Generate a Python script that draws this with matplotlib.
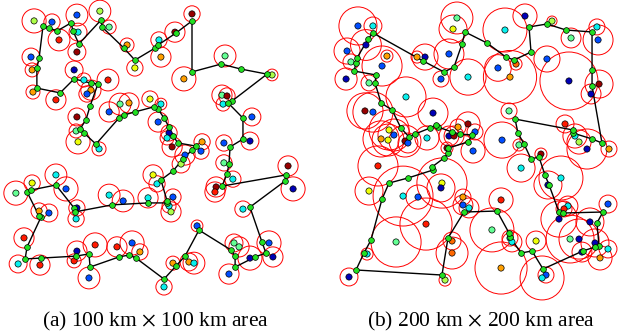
import matplotlib.pyplot as plt
from matplotlib.patches import Circle

plt.rcParams['mathtext.fontset'] = 'stix'

# colour levels of the sensor nodes (jet colormap)
N, B, C, LG, YG, Y, O, OR, R, DR = 0.05, 0.2, 0.36, 0.47, 0.56, 0.64, 0.74, 0.8, 0.88, 0.98

# ---- (a) 100 km x 100 km ----
sens_a_x = [8.6, 15.0, 17.5, 23.9, 24.3, 23.9, 32.1, 35.4, 41.8, 44.6,
            53.2, 53.9, 58.9, 65.0, 7.5, 7.9, 22.9, 8.2, 16.4, 26.4,
            28.9, 27.5, 35.0, 62.1, 76.8, 93.6, 75.7, 77.5, 76.1, 86.4,
            23.9, 35.4, 39.3, 42.5, 50.0, 53.9, 52.9, 56.8, 56.1, 23.6,
            24.3, 31.8, 57.9, 68.6, 68.2, 62.5, 61.1, 51.1, 52.5, 76.4,
            85.7, 76.4, 79.6, 73.6, 73.2, 99.3, 101.1, 83.2, 66.8, 58.2,
            56.8, 57.5, 49.3, 35.4, 40.4, 16.4, 20.0, 7.9, 2.1, 23.9,
            23.6, 10.4, 13.9, 5.0, 2.9, 10.7, 23.9, 22.9, 30.4, 28.2,
            38.2, 43.6, 46.4, 55.0, 58.2, 63.9, 65.7, 80.0, 81.8, 85.7,
            92.5, 93.9, 78.2]
sens_a_y = [96.1, 95.7, 89.3, 98.2, 92.1, 85.0, 99.6, 93.9, 87.5, 79.3,
            89.3, 83.2, 92.1, 98.6, 83.2, 78.6, 78.6, 70.7, 67.9, 75.0,
            71.4, 70.0, 75.0, 75.4, 83.6, 76.8, 69.6, 69.3, 66.4, 61.8,
            61.8, 63.6, 66.4, 66.8, 68.2, 66.4, 60.0, 56.1, 54.3, 56.8,
            52.9, 50.4, 51.1, 52.9, 49.6, 48.2, 45.0, 41.1, 37.9, 52.5,
            53.2, 45.4, 39.6, 36.8, 35.0, 44.3, 36.1, 28.9, 22.9, 33.2,
            30.0, 27.9, 32.9, 33.9, 31.8, 41.1, 36.1, 38.2, 34.6, 29.3,
            25.4, 28.2, 27.5, 18.6, 9.3, 8.9, 13.9, 10.4, 16.1, 4.3,
            15.4, 16.8, 13.6, 1.1, 9.6, 10.0, 9.6, 16.8, 15.4, 11.4,
            16.8, 11.8, 5.7]
sens_a_r = [4.3, 2.9, 3.9, 3.9, 3.2, 3.2, 3.9, 2.5, 2.5, 2.9,
            2.9, 3.6, 3.6, 2.9, 3.2, 2.5, 3.2, 2.5, 3.6, 2.5,
            3.6, 2.9, 3.9, 4.3, 3.9, 2.1, 3.6, 2.9, 2.5, 3.2,
            3.2, 3.6, 3.9, 3.6, 2.9, 2.1, 3.6, 2.9, 2.5, 2.5,
            4.3, 2.5, 3.6, 2.9, 2.9, 3.6, 3.2, 3.6, 2.9, 2.9,
            3.2, 2.9, 2.9, 3.6, 3.6, 3.6, 4.3, 2.9, 2.1, 2.9,
            2.5, 3.6, 3.6, 3.9, 3.9, 3.9, 4.3, 2.9, 4.3, 2.9,
            2.9, 2.9, 3.2, 3.6, 3.2, 3.6, 3.6, 2.5, 4.3, 3.9,
            3.6, 4.3, 2.9, 2.9, 2.5, 3.2, 3.9, 3.2, 3.6, 4.3,
            4.3, 3.6, 3.6]
sens_a_c = [YG, B, R, B, C, DR, YG, LG, O, Y,
            C, O, DR, DR, B, O, N, O, R, C,
            O, B, R, O, LG, YG, LG, DR, C, B,
            DR, B, LG, O, Y, C, B, N, C, LG,
            Y, C, DR, O, B, B, YG, Y, C, B,
            N, LG, C, DR, R, DR, N, C, B, B,
            C, YG, C, C, B, C, B, Y, LG, N,
            C, O, B, R, C, R, N, R, R, B,
            R, B, O, C, O, O, C, LG, LG, N,
            B, N, B]

tour_a_x = [11.8, 13.9, 16.8, 21.8, 22.5, 24.6, 32.5, 32.9, 40.7, 44.6,
            51.8, 52.9, 59.3, 65.0, 65.0, 75.4, 82.5, 91.8, 79.3, 77.9,
            83.2, 83.2, 78.6, 78.2, 77.5, 75.7, 98.6, 98.2, 85.7, 90.0,
            91.4, 87.5, 80.4, 80.4, 78.9, 67.5, 62.5, 59.3, 55.0, 45.0,
            42.5, 38.9, 28.6, 28.2, 23.6, 11.1, 5.4, 6.1, 11.1, 10.4,
            6.1, 7.5, 16.4, 22.9, 23.2, 36.4, 49.3, 56.1, 56.1, 53.9,
            58.2, 61.8, 65.0, 66.4, 60.0, 58.2, 56.8, 55.0, 52.9, 51.4,
            44.6, 40.7, 38.9, 30.7, 26.4, 25.0, 27.1, 28.6, 31.4, 28.9,
            22.9, 17.9, 9.6, 9.6, 10.4]
tour_a_y = [94.3, 93.6, 92.5, 95.4, 92.5, 87.9, 96.4, 93.9, 86.4, 82.1,
            86.4, 87.5, 91.8, 96.1, 77.9, 80.7, 78.9, 77.1, 67.5, 66.8,
            61.4, 53.9, 51.1, 45.0, 41.4, 37.1, 41.1, 38.9, 29.6, 17.1,
            13.2, 11.8, 8.2, 12.1, 14.3, 21.4, 12.1, 8.6, 3.9, 11.4,
            12.5, 11.8, 8.2, 12.9, 12.1, 11.4, 11.1, 15.4, 26.1, 26.4,
            35.0, 35.7, 37.5, 29.3, 27.9, 30.4, 31.1, 31.1, 31.8, 39.3,
            42.5, 46.8, 50.0, 51.4, 52.5, 55.0, 58.2, 61.4, 64.6, 65.4,
            63.6, 62.5, 61.4, 52.1, 56.1, 57.5, 60.7, 65.7, 73.6, 73.9,
            75.4, 70.4, 72.1, 79.3, 82.9]

# ---- (b) 200 km x 200 km ----
sens_b_x = [16.4, 27.1, 8.6, 11.4, 22.1, 33.6, 37.1, 7.9, 24.3, 50.7,
            58.6, 64.3, 87.1, 84.3, 81.4, 75.7, 95.0, 121.4, 135.7, 155.0,
            187.1, 187.9, 168.6, 116.4, 129.3, 125.0, 151.4, 167.1, 188.6, 182.9,
            21.4, 27.1, 70.0, 95.0, 124.3, 164.3, 171.4, 38.6, 42.1, 32.9,
            37.9, 50.0, 52.1, 65.7, 87.9, 81.4, 85.0, 100.0, 80.0, 98.6,
            30.7, 76.4, 75.7, 24.3, 48.6, 59.3, 91.4, 91.4, 95.7, 119.3,
            131.4, 132.9, 147.1, 161.4, 152.1, 174.3, 180.0, 195.7, 118.6, 65.0,
            43.6, 22.9, 10.0, 78.6, 83.6, 83.6, 112.1, 125.0, 126.4, 143.6,
            118.6, 150.7, 147.9, 166.4, 163.6, 160.0, 195.0, 182.1, 167.9, 174.3,
            185.7, 195.0, 189.3, 176.4]
sens_b_y = [188.6, 188.6, 170.7, 162.9, 175.0, 160.0, 167.1, 150.7, 147.9, 137.9,
            166.4, 166.4, 194.3, 186.4, 168.6, 150.7, 152.1, 185.7, 195.7, 192.1,
            187.9, 178.6, 180.0, 158.6, 161.4, 152.1, 165.0, 149.3, 147.1, 140.0,
            127.9, 127.1, 126.4, 118.6, 127.9, 118.6, 110.0, 114.3, 110.7, 107.9,
            107.1, 106.4, 105.0, 108.6, 116.4, 110.0, 110.0, 112.9, 101.4, 99.3,
            88.6, 76.4, 72.9, 70.7, 67.1, 66.4, 66.4, 60.7, 58.6, 107.1,
            103.6, 87.1, 97.1, 80.0, 75.0, 105.7, 100.7, 100.7, 64.3, 47.1,
            34.3, 25.7, 9.3, 7.1, 35.0, 26.4, 42.9, 37.1, 34.3, 35.0,
            15.7, 10.7, 8.6, 60.0, 57.9, 50.7, 61.4, 48.6, 36.4, 36.4,
            33.6, 29.3, 22.9, 27.1]
sens_b_r = [13.6, 6.4, 9.3, 5.7, 11.0, 14.3, 4.3, 7.9, 5.7, 14.3,
            4.3, 9.3, 11.4, 10.0, 10.7, 5.7, 12.9, 15.7, 8.6, 3.6,
            5.7, 10.7, 7.1, 9.5, 4.3, 19.0, 9.3, 20.7, 10.0, 7.1,
            12.9, 14.3, 10.7, 8.6, 5.7, 6.4, 8.6, 14.3, 11.4, 12.9,
            11.4, 11.4, 7.1, 8.6, 5.7, 7.1, 7.1, 5.7, 4.3, 8.6,
            14.3, 17.9, 10.0, 10.0, 21.4, 8.6, 5.7, 7.1, 7.1, 12.9,
            4.3, 10.0, 4.3, 15.7, 10.0, 8.6, 14.3, 5.7, 8.6, 18.6,
            17.9, 4.3, 6.4, 4.3, 6.4, 11.4, 15.7, 5.7, 7.1, 7.1,
            18.6, 5.7, 15.7, 7.1, 5.7, 12.9, 6.4, 10.0, 17.1, 14.3,
            10.0, 6.4, 8.6, 7.1]
sens_b_c = [B, C, B, LG, N, B, O, N, LG, C,
            O, N, LG, Y, B, B, C, C, N, YG,
            C, B, LG, B, OR, O, B, N, DR, N,
            DR, B, N, DR, LG, R, C, Y, B, O,
            Y, DR, B, C, O, N, DR, B, DR, B,
            R, Y, N, Y, C, B, O, B, C, B,
            LG, C, DR, C, N, YG, N, O, R, R,
            LG, C, N, YG, OR, OR, LG, C, C, Y,
            O, B, C, C, R, N, B, N, LG, N,
            N, C, O, N]

tour_b_x = [27.1, 62.9, 77.9, 85.0, 90.7, 92.9, 108.6, 122.1, 127.9, 140.0,
            138.6, 151.4, 165.0, 183.6, 183.6, 183.6, 190.7, 183.6, 170.0, 170.0,
            128.6, 130.7, 135.0, 140.0, 145.7, 150.0, 152.9, 160.0, 162.9, 191.4,
            187.1, 188.6, 185.7, 177.1, 148.6, 140.7, 132.9, 125.0, 124.3, 115.7,
            92.1, 80.7, 76.4, 15.0, 20.7, 25.7, 33.6, 38.6, 52.1, 70.0,
            69.3, 77.9, 80.7, 80.7, 95.0, 97.9, 89.3, 83.6, 73.6, 72.1,
            67.9, 57.1, 52.9, 47.1, 40.7, 32.9, 28.6, 29.3, 13.6, 15.0,
            15.7, 23.6]
tour_b_y = [183.6, 163.6, 155.7, 159.3, 175.7, 184.3, 176.4, 166.4, 164.3, 170.0,
            187.9, 190.0, 185.7, 184.3, 157.1, 145.7, 105.0, 107.9, 112.1, 114.3,
            122.1, 112.1, 104.3, 93.6, 95.0, 82.1, 75.0, 55.7, 55.0, 55.7,
            47.9, 31.4, 30.7, 27.9, 15.0, 27.9, 26.4, 37.9, 40.7, 56.4,
            55.7, 37.1, 10.7, 14.3, 26.4, 35.7, 65.0, 76.4, 80.0, 85.7,
            87.9, 94.3, 97.9, 101.4, 105.7, 110.7, 111.4, 112.9, 116.4, 117.9,
            115.7, 111.4, 109.3, 115.7, 128.6, 133.6, 147.9, 153.6, 156.4, 162.1,
            165.7, 179.3]


def draw_panel(ax, sx, sy, sr, sc, tx, ty, side):
    for x, y, r in zip(sx, sy, sr):
        ax.add_patch(Circle((x, y), r, fill=False, ec='red', lw=0.7,
                            zorder=1, clip_on=False))
    ax.plot(tx + tx[:1], ty + ty[:1], color='black', lw=1.0, zorder=2,
            clip_on=False)
    ax.scatter(sx, sy, c=sc, cmap='jet', vmin=0, vmax=1, s=20,
               edgecolors='black', linewidths=0.5, zorder=3, clip_on=False)
    ax.scatter(tx, ty, color='#22e022', s=17, edgecolors='black',
               linewidths=0.5, zorder=4, clip_on=False)
    ax.set_xlim(0, side)
    ax.set_ylim(0, side)
    ax.set_aspect('equal')
    ax.axis('off')


fig = plt.figure(figsize=(6.18, 3.36), dpi=100)
ax_a = fig.add_axes([10 / 618, 46 / 336, 280 / 618, 280 / 336])
ax_b = fig.add_axes([335 / 618, 46 / 336, 280 / 618, 280 / 336])

draw_panel(ax_a, sens_a_x, sens_a_y, sens_a_r, sens_a_c, tour_a_x, tour_a_y, 100)
draw_panel(ax_b, sens_b_x, sens_b_y, sens_b_r, sens_b_c, tour_b_x, tour_b_y, 200)

fig.text(155 / 618, 1 - 321 / 336, r'(a) 100 km $\times$ 100 km area',
         ha='center', va='center', family='Liberation Serif', fontsize=15.5)
fig.text(481 / 618, 1 - 321 / 336, r'(b) 200 km $\times$ 200 km area',
         ha='center', va='center', family='Liberation Serif', fontsize=15.5)

fig.savefig('out.png', dpi=100)
